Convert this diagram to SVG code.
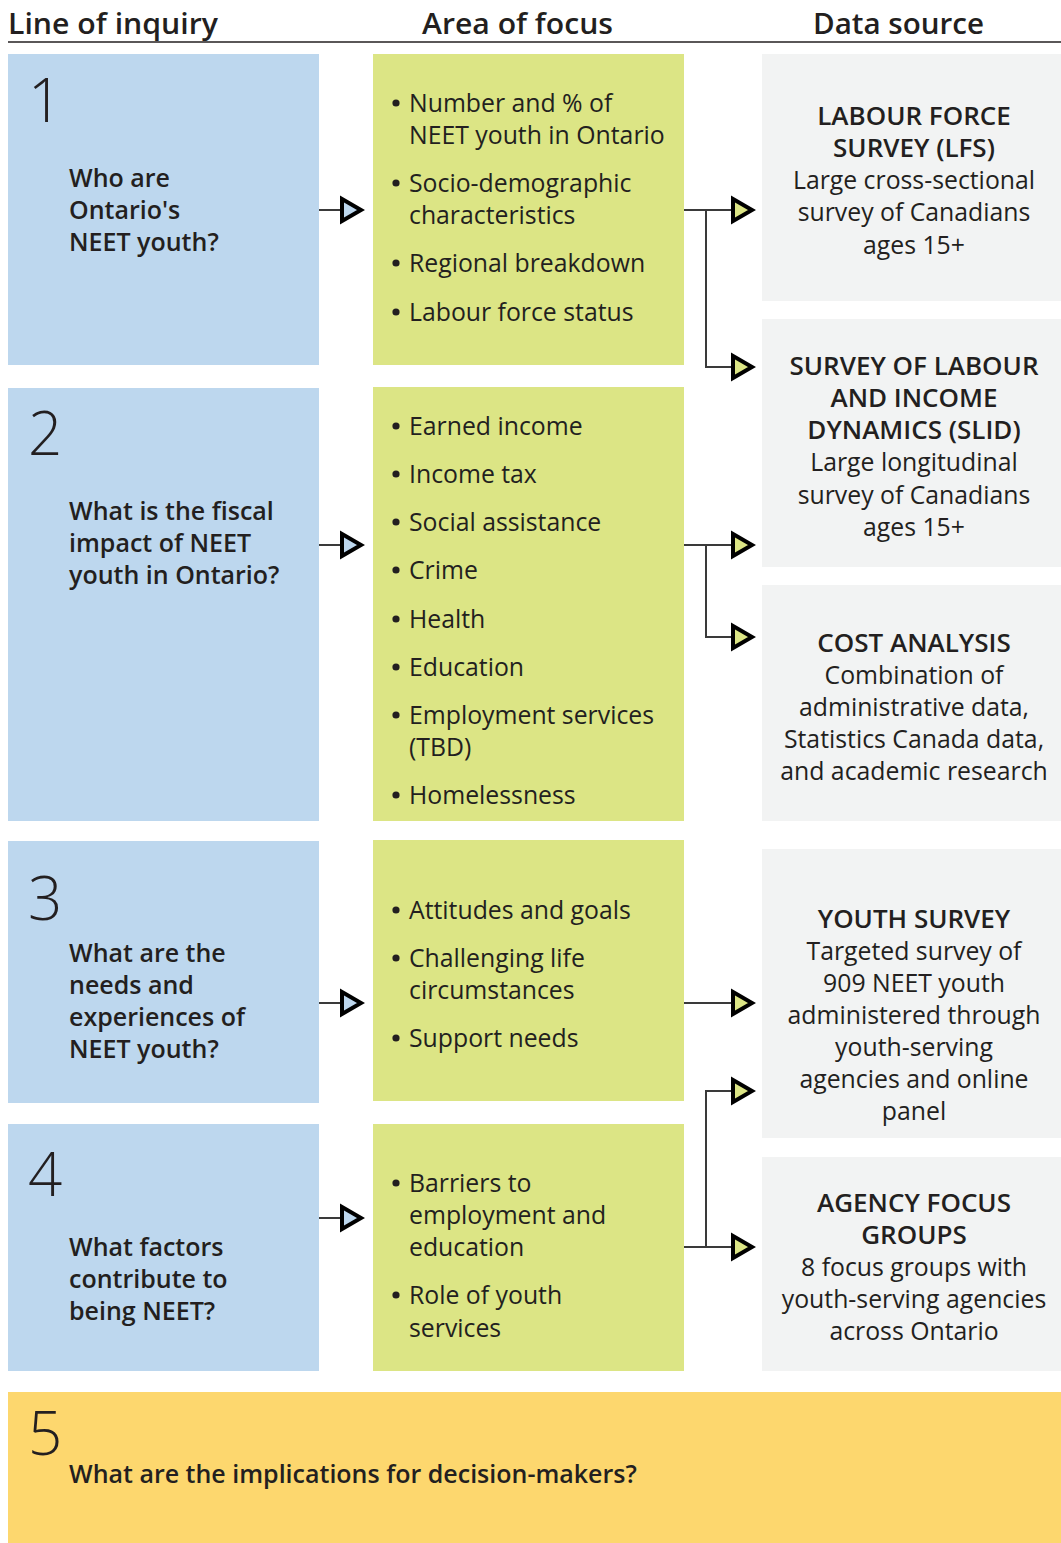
<svg xmlns="http://www.w3.org/2000/svg" width="1061" height="1543" viewBox="0 0 1061 1543">
  <style>
    .hdr { font-family: "Open Sans", "Liberation Sans", sans-serif; font-size: 29px; font-weight: 600; fill: #231f20; }
    .num { font-family: "Open Sans", "Liberation Sans", sans-serif; font-size: 60px; font-weight: 300; fill: #231f20; }
    .q { font-family: "Open Sans", "Liberation Sans", sans-serif; font-size: 25px; font-weight: 600; fill: #231f20; }
    .b { font-family: "Open Sans", "Liberation Sans", sans-serif; font-size: 24.8px; font-weight: 400; fill: #231f20; }
    .t { font-family: "Open Sans", "Liberation Sans", sans-serif; font-size: 26px; font-weight: 600; fill: #231f20; text-anchor: middle; }
    .d { font-family: "Open Sans", "Liberation Sans", sans-serif; font-size: 24.8px; font-weight: 400; fill: #231f20; text-anchor: middle; }
    .blue { fill: #bdd7ee; }
    .green { fill: #dce585; }
    .grey { fill: #f2f3f3; }
    .yellow { fill: #fdd76e; }
    .dot { fill: #231f20; }
    .link { fill: none; stroke: #3a3a3a; stroke-width: 2; }
  </style>
  <defs>
    <marker id="headBlue" markerUnits="userSpaceOnUse" markerWidth="30" markerHeight="34" viewBox="0 0 30 34" refX="4" refY="17" orient="auto">
      <path d="M4,6 L4,28 L23,17 Z" fill="#bdd7ee" stroke="#000" stroke-width="4"/>
    </marker>
    <marker id="headGreen" markerUnits="userSpaceOnUse" markerWidth="30" markerHeight="34" viewBox="0 0 30 34" refX="4" refY="17" orient="auto">
      <path d="M4,6 L4,28 L23,17 Z" fill="#dce585" stroke="#000" stroke-width="4"/>
    </marker>
  </defs>

  <rect width="1061" height="1543" fill="#ffffff"/>

  <!-- column headings -->
  <g id="headings">
    <text class="hdr" x="8" y="34" textLength="210" lengthAdjust="spacingAndGlyphs">Line of inquiry</text>
    <text class="hdr" x="422" y="34" textLength="191" lengthAdjust="spacingAndGlyphs">Area of focus</text>
    <text class="hdr" x="813" y="34" textLength="171" lengthAdjust="spacingAndGlyphs">Data source</text>
    <line x1="8" y1="42" x2="1061" y2="42" stroke="#231f20" stroke-width="1.5"/>
  </g>

  <!-- lines of inquiry -->
  <g id="inquiry1">
    <rect class="blue" x="8" y="54" width="311" height="311"/>
    <text class="num" x="28" y="122">1</text>
    <text class="q" x="69" y="187">Who are</text>
    <text class="q" x="69" y="219">Ontario's</text>
    <text class="q" x="69" y="251">NEET youth?</text>
  </g>
  <g id="inquiry2">
    <rect class="blue" x="8" y="388" width="311" height="433"/>
    <text class="num" x="28" y="455">2</text>
    <text class="q" x="69" y="520">What is the fiscal</text>
    <text class="q" x="69" y="552">impact of NEET</text>
    <text class="q" x="69" y="584">youth in Ontario?</text>
  </g>
  <g id="inquiry3">
    <rect class="blue" x="8" y="841" width="311" height="262"/>
    <text class="num" x="28" y="920">3</text>
    <text class="q" x="69" y="962">What are the</text>
    <text class="q" x="69" y="994">needs and</text>
    <text class="q" x="69" y="1026">experiences of</text>
    <text class="q" x="69" y="1058">NEET youth?</text>
  </g>
  <g id="inquiry4">
    <rect class="blue" x="8" y="1124" width="311" height="247"/>
    <text class="num" x="28" y="1196">4</text>
    <text class="q" x="69" y="1256">What factors</text>
    <text class="q" x="69" y="1288">contribute to</text>
    <text class="q" x="69" y="1320">being NEET?</text>
  </g>
  <g id="inquiry5">
    <rect class="yellow" x="8" y="1392" width="1053" height="151"/>
    <text class="num" x="28" y="1455">5</text>
    <text class="q" x="69" y="1483">What are the implications for decision-makers?</text>
  </g>

  <!-- areas of focus -->
  <g id="focus1">
    <rect class="green" x="373" y="54" width="311" height="311"/>
    <circle class="dot" cx="396" cy="103" r="3.6"/>
    <text class="b" x="409" y="112">Number and % of</text>
    <text class="b" x="409" y="144">NEET youth in Ontario</text>
    <circle class="dot" cx="396" cy="183" r="3.6"/>
    <text class="b" x="409" y="192">Socio-demographic</text>
    <text class="b" x="409" y="224">characteristics</text>
    <circle class="dot" cx="396" cy="263" r="3.6"/>
    <text class="b" x="409" y="272">Regional breakdown</text>
    <circle class="dot" cx="396" cy="312" r="3.6"/>
    <text class="b" x="409" y="321">Labour force status</text>
  </g>
  <g id="focus2">
    <rect class="green" x="373" y="387" width="311" height="434"/>
    <circle class="dot" cx="396" cy="426" r="3.6"/>
    <text class="b" x="409" y="435">Earned income</text>
    <circle class="dot" cx="396" cy="474" r="3.6"/>
    <text class="b" x="409" y="483">Income tax</text>
    <circle class="dot" cx="396" cy="522" r="3.6"/>
    <text class="b" x="409" y="531">Social assistance</text>
    <circle class="dot" cx="396" cy="570" r="3.6"/>
    <text class="b" x="409" y="579">Crime</text>
    <circle class="dot" cx="396" cy="619" r="3.6"/>
    <text class="b" x="409" y="628">Health</text>
    <circle class="dot" cx="396" cy="667" r="3.6"/>
    <text class="b" x="409" y="676">Education</text>
    <circle class="dot" cx="396" cy="715" r="3.6"/>
    <text class="b" x="409" y="724">Employment services</text>
    <text class="b" x="409" y="756">(TBD)</text>
    <circle class="dot" cx="396" cy="795" r="3.6"/>
    <text class="b" x="409" y="804">Homelessness</text>
  </g>
  <g id="focus3">
    <rect class="green" x="373" y="840" width="311" height="261"/>
    <circle class="dot" cx="396" cy="910" r="3.6"/>
    <text class="b" x="409" y="919">Attitudes and goals</text>
    <circle class="dot" cx="396" cy="958" r="3.6"/>
    <text class="b" x="409" y="967">Challenging life</text>
    <text class="b" x="409" y="999">circumstances</text>
    <circle class="dot" cx="396" cy="1038" r="3.6"/>
    <text class="b" x="409" y="1047">Support needs</text>
  </g>
  <g id="focus4">
    <rect class="green" x="373" y="1124" width="311" height="247"/>
    <circle class="dot" cx="396" cy="1183" r="3.6"/>
    <text class="b" x="409" y="1192">Barriers to</text>
    <text class="b" x="409" y="1224">employment and</text>
    <text class="b" x="409" y="1256">education</text>
    <circle class="dot" cx="396" cy="1295" r="3.6"/>
    <text class="b" x="409" y="1304">Role of youth</text>
    <text class="b" x="409" y="1337">services</text>
  </g>

  <!-- data sources -->
  <g id="source-lfs">
    <rect class="grey" x="762" y="54" width="299" height="247"/>
    <text class="t" x="914" y="125">LABOUR FORCE</text>
    <text class="t" x="914" y="157">SURVEY (LFS)</text>
    <text class="d" x="914" y="189">Large cross-sectional</text>
    <text class="d" x="914" y="221">survey of Canadians</text>
    <text class="d" x="914" y="254">ages 15+</text>
  </g>
  <g id="source-slid">
    <rect class="grey" x="762" y="319" width="299" height="248"/>
    <text class="t" x="914" y="375">SURVEY OF LABOUR</text>
    <text class="t" x="914" y="407">AND INCOME</text>
    <text class="t" x="914" y="439">DYNAMICS (SLID)</text>
    <text class="d" x="914" y="471">Large longitudinal</text>
    <text class="d" x="914" y="504">survey of Canadians</text>
    <text class="d" x="914" y="536">ages 15+</text>
  </g>
  <g id="source-cost">
    <rect class="grey" x="762" y="585" width="299" height="236"/>
    <text class="t" x="914" y="652">COST ANALYSIS</text>
    <text class="d" x="914" y="684">Combination of</text>
    <text class="d" x="914" y="716">administrative data,</text>
    <text class="d" x="914" y="748">Statistics Canada data,</text>
    <text class="d" x="914" y="780">and academic research</text>
  </g>
  <g id="source-youth-survey">
    <rect class="grey" x="762" y="849" width="299" height="289"/>
    <text class="t" x="914" y="928">YOUTH SURVEY</text>
    <text class="d" x="914" y="960">Targeted survey of</text>
    <text class="d" x="914" y="992">909 NEET youth</text>
    <text class="d" x="914" y="1024">administered through</text>
    <text class="d" x="914" y="1056">youth-serving</text>
    <text class="d" x="914" y="1088">agencies and online</text>
    <text class="d" x="914" y="1120">panel</text>
  </g>
  <g id="source-focus-groups">
    <rect class="grey" x="762" y="1157" width="299" height="214"/>
    <text class="t" x="914" y="1212">AGENCY FOCUS</text>
    <text class="t" x="914" y="1244">GROUPS</text>
    <text class="d" x="914" y="1276">8 focus groups with</text>
    <text class="d" x="914" y="1308">youth-serving agencies</text>
    <text class="d" x="914" y="1340">across Ontario</text>
  </g>

  <!-- connectors -->
  <g id="connectors">
    <line class="link" x1="319" y1="210" x2="342" y2="210" marker-end="url(#headBlue)"/>
    <line class="link" x1="319" y1="545" x2="342" y2="545" marker-end="url(#headBlue)"/>
    <line class="link" x1="319" y1="1003" x2="342" y2="1003" marker-end="url(#headBlue)"/>
    <line class="link" x1="319" y1="1218" x2="342" y2="1218" marker-end="url(#headBlue)"/>

    <line class="link" x1="684" y1="210" x2="733" y2="210" marker-end="url(#headGreen)"/>
    <polyline class="link" points="706,210 706,367 733,367" marker-end="url(#headGreen)"/>

    <line class="link" x1="684" y1="545" x2="733" y2="545" marker-end="url(#headGreen)"/>
    <polyline class="link" points="706,545 706,637 733,637" marker-end="url(#headGreen)"/>

    <line class="link" x1="684" y1="1003" x2="733" y2="1003" marker-end="url(#headGreen)"/>

    <line class="link" x1="684" y1="1247" x2="733" y2="1247" marker-end="url(#headGreen)"/>
    <polyline class="link" points="706,1247 706,1091 733,1091" marker-end="url(#headGreen)"/>
  </g>
</svg>
